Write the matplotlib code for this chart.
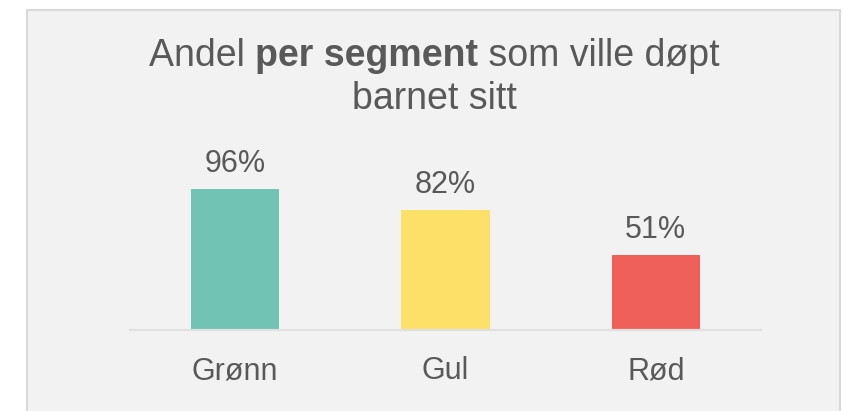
import matplotlib
matplotlib.use('Agg')
import matplotlib.pyplot as plt
from matplotlib.patches import Rectangle

# data
segments = ['Grønn', 'Gul', 'Rød']
shares = [96, 82, 51]
bar_colors = ['#71c4b4', '#fde068', '#f0605b']
title_parts = [('Andel ', 'normal'), ('per segment', 'bold'), (' som ville døpt', 'normal')]
title_line2 = 'barnet sitt'

plt.rcParams['font.family'] = ['Liberation Sans', 'DejaVu Sans']
text_col = '#595959'

W, H = 843, 411
fig = plt.figure(figsize=(W / 100, H / 100), dpi=100)
fig.patch.set_facecolor('white')

# grey card behind the chart
card = Rectangle((27 / W, -0.05), (840 - 27) / W, (H - 10) / H + 0.05,
                 transform=fig.transFigure, facecolor='#f2f2f2',
                 edgecolor='#d9d9d9', linewidth=1.5, zorder=-1)
fig.patches.append(card)

ax = fig.add_axes([130 / W, (H - 330) / H, 631 / W, 146.9 / H], zorder=2)
ax.set_facecolor('none')
x = range(len(segments))
bars = ax.bar(x, shares, width=0.42, color=bar_colors)
ax.set_xlim(-0.5, 2.5)
ax.set_ylim(0, 100)

for b, v in zip(bars, shares):
    ax.annotate(f'{v}%', (b.get_x() + b.get_width() / 2, v), xytext=(0, 12),
                textcoords='offset points', ha='center', va='baseline',
                fontsize=22, color=text_col)

ax.set_xticks(list(x))
ax.set_xticklabels(segments, fontsize=22, color=text_col)
ax.tick_params(axis='x', length=0, pad=19)
ax.set_yticks([])
for s in ['top', 'left', 'right']:
    ax.spines[s].set_visible(False)
ax.spines['bottom'].set_color('#e0e0e0')
ax.spines['bottom'].set_linewidth(1.6)

# title, first line has a bold part in the middle
fs_title = 27
renderer = fig.canvas.get_renderer()
pieces = []
for txt, wt in title_parts:
    t = fig.text(0, 1 - 66 / H, txt, fontsize=fs_title, fontweight=wt,
                 color=text_col, va='baseline', ha='left', zorder=3)
    pieces.append(t)
widths = [p.get_window_extent(renderer).width for p in pieces]
xpos = 434 - sum(widths) / 2
for p, w in zip(pieces, widths):
    p.set_x(xpos / W)
    xpos += w
fig.text(434 / W, 1 - 109 / H, title_line2, fontsize=fs_title, color=text_col,
         ha='center', va='baseline', zorder=3)

fig.savefig('out.png', dpi=100, facecolor=fig.get_facecolor())
